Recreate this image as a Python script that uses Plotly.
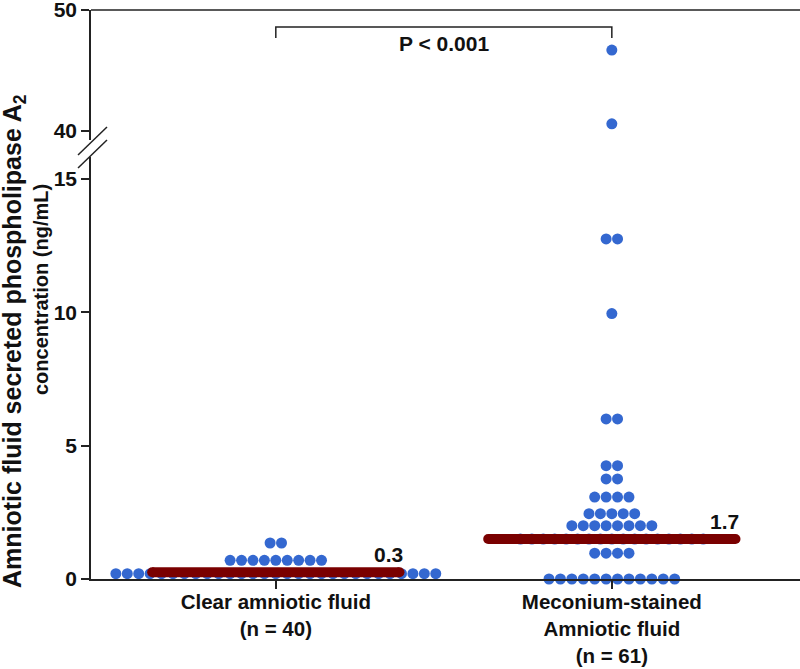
import plotly.graph_objects as go

# ---- data ----
groups = ["Clear amniotic fluid<br>(n = 40)", "Meconium-stained<br>Amniotic fluid<br>(n = 61)"]
clear_levels = [0.2, 0.7, 1.35]
clear_counts = [29, 9, 2]
mec_levels = [0.0, 0.97, 1.5, 2.0, 2.45, 3.07, 3.75, 4.25, 6.0, 9.95, 12.75, 40.6, 46.7]
mec_counts = [12, 4, 17, 8, 5, 4, 2, 2, 2, 1, 2, 1, 1]
median_bar_y = [0.25, 1.5]
median_labels = ["0.3", "1.7"]
low_ticks = [0, 5, 10, 15]
up_ticks = [40, 50]
p_text = "P < 0.001"

# ---- styling / layout constants ----
FONT = "Liberation Sans, Arial, sans-serif"
DOT = "#3468D0"
BAR = "#7A0000"
AX = "#222222"
SPACING = 0.034      # horizontal gap between swarm dots (x units)
BAR_HALF = 0.368
LOW_MAX = 15.82
UP_MIN, UP_MAX = 39.26, 50.01
BREAK = 15.5

fig = go.Figure()

def swarm(center, levels, counts):
    xs, ys = [], []
    for v, k in zip(levels, counts):
        for i in range(k):
            xs.append(center + (i - (k - 1) / 2) * SPACING)
            ys.append(v)
    return xs, ys

for gi, (levels, counts) in enumerate([(clear_levels, clear_counts), (mec_levels, mec_counts)]):
    xs, ys = swarm(gi, levels, counts)
    lo = [(x, y) for x, y in zip(xs, ys) if y < BREAK]
    hi = [(x, y) for x, y in zip(xs, ys) if y >= BREAK]
    if lo:
        fig.add_trace(go.Scatter(x=[p[0] for p in lo], y=[p[1] for p in lo], mode="markers",
                                 marker=dict(color=DOT, size=11, line=dict(width=0)),
                                 cliponaxis=False, showlegend=False, yaxis="y"))
    if hi:
        fig.add_trace(go.Scatter(x=[p[0] for p in hi], y=[p[1] for p in hi], mode="markers",
                                 marker=dict(color=DOT, size=11, line=dict(width=0)),
                                 cliponaxis=False, showlegend=False, yaxis="y2"))

# median bars with round caps
for gi, my in enumerate(median_bar_y):
    fig.add_trace(go.Scatter(x=[gi - BAR_HALF, gi + BAR_HALF], y=[my, my], mode="lines+markers",
                             line=dict(color=BAR, width=10),
                             marker=dict(color=BAR, size=10, line=dict(width=0)),
                             cliponaxis=False, showlegend=False))
    fig.add_annotation(x=gi + BAR_HALF + 0.015, y=my, xref="x", yref="y", text=f"<b>{median_labels[gi]}</b>",
                       showarrow=False, xanchor="right", yanchor="bottom", yshift=4,
                       font=dict(family=FONT, size=21, color="#111"))

# domains (lower 0..15, upper 40..50)
plot_h = 669 - 10 - 90
low_top = (579 - 157) / plot_h
up_bot = (579 - 140) / plot_h

common = dict(showline=True, linecolor=AX, linewidth=1.5, ticks="outside", ticklen=8,
              tickwidth=1.5, tickcolor=AX, showgrid=False, zeroline=False, automargin=False,
              ticklabeloverflow="allow")

fig.update_layout(
    width=800, height=669,
    margin=dict(l=91, r=0, t=10, b=90, autoexpand=False),
    paper_bgcolor="white", plot_bgcolor="white",
    font=dict(family=FONT, color="#111"),
    xaxis=dict(range=[-0.55, 1.56], tickvals=[0, 1], ticktext=[f"<b>{g}</b>" for g in groups],
               tickfont=dict(family=FONT, size=20.5, color="#111"), ticklabelstandoff=-4,
               anchor="y", **common),
    yaxis=dict(domain=[0, low_top], range=[0, LOW_MAX], tickvals=low_ticks,
               ticktext=[f"<b>{t}</b>" for t in low_ticks],
               tickfont=dict(family=FONT, size=21, color="#111"), **common),
    yaxis2=dict(domain=[up_bot, 1], range=[UP_MIN, UP_MAX], tickvals=up_ticks,
                ticktext=[f"<b>{t}</b>" for t in up_ticks], anchor="x",
                tickfont=dict(family=FONT, size=21, color="#111"), **common),
)

# top border
fig.add_shape(type="line", xref="paper", yref="paper", x0=0, x1=1, y0=1, y1=1,
              line=dict(color=AX, width=1.5))
# axis break slashes
for y0p, y1p in [(155, 127), (168, 140)]:
    fig.add_shape(type="line", xref="paper", yref="paper",
                  x0=(78 - 91) / 709, x1=(107 - 91) / 709,
                  y0=(579 - y0p) / plot_h, y1=(579 - y1p) / plot_h,
                  line=dict(color=AX, width=1.5))

# significance bracket
fig.add_shape(type="path", xref="x", yref="y2",
              path="M 0 47.7 L 0 48.6 L 1 48.6 L 1 47.7", line=dict(color=AX, width=1.5))
fig.add_annotation(x=0.5, y=47.2, xref="x", yref="y2", text=f"<b>{p_text}</b>", showarrow=False,
                   font=dict(family=FONT, size=21, color="#111"))

# y axis title (two lines)
fig.add_annotation(x=(-4 - 91) / 709, y=(579 - 341) / plot_h, xref="paper", yref="paper",
                   text="<b>Amniotic fluid secreted phospholipase A<sub>2</sub></b>", textangle=-90,
                   showarrow=False, font=dict(family=FONT, size=25, color="#111"))
fig.add_annotation(x=(28 - 91) / 709, y=(579 - 290) / plot_h, xref="paper", yref="paper",
                   text="<b>concentration (ng/mL)</b>", textangle=-90,
                   showarrow=False, font=dict(family=FONT, size=20, color="#111"))

fig.write_html("out.html", config={"displayModeBar": False},
               post_script="document.body.style.margin='0px';document.body.style.overflow='hidden';")
